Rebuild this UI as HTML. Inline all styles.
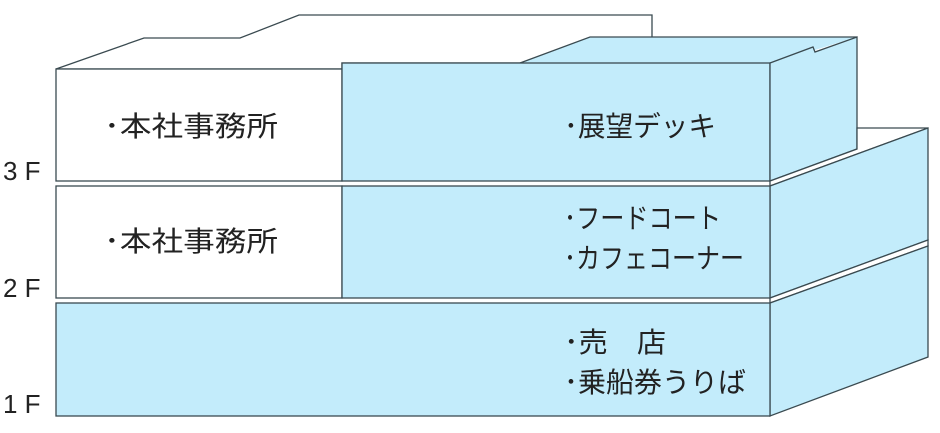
<!DOCTYPE html>
<html><head><meta charset="utf-8"><style>
html,body{margin:0;padding:0;background:#fff;}
text{font-family:"Liberation Sans","Noto Sans CJK JP",sans-serif;fill:#222;}
</style></head><body>
<svg width="940" height="428" viewBox="0 0 940 428" xmlns="http://www.w3.org/2000/svg">
<g stroke="#3a4a50" stroke-width="1.3" stroke-linejoin="miter">
<polygon points="56,69 144,38 240,38 299,15 652,15 652,63 342,63 342,69" fill="#fff"/>
<polygon points="342,63 520,63 590,37 857,37 815,50 813,47 770,63" fill="#c3ecfb" stroke="none"/>
<polyline points="520,63 590,37 857,37" fill="none"/>
<rect x="56" y="69" width="286" height="112" fill="#fff"/>
<rect x="342" y="63" width="428" height="118" fill="#c3ecfb"/>
<polygon points="770,63 813,47 815,52 857,37 857,149 770,181" fill="#c3ecfb"/>
<polygon points="770,181 857,149 857,128 928,128 770,186" fill="#fff"/>
<polygon points="770,186 928,128 928,240 770,298" fill="#c3ecfb"/>
<rect x="56" y="186" width="286" height="112" fill="#fff"/>
<rect x="342" y="186" width="428" height="112" fill="#c3ecfb"/>
<polygon points="770,298 928,240 928,246 770,303" fill="#fff"/>
<polygon points="770,303 928,246 928,357 770,416" fill="#c3ecfb"/>
<rect x="56" y="303" width="714" height="113" fill="#c3ecfb"/>
</g>
<g font-size="28">
<text x="104" y="136" textLength="174" lengthAdjust="spacingAndGlyphs">･本社事務所</text>
<text x="564" y="136" textLength="152" lengthAdjust="spacingAndGlyphs">･展望デッキ</text>
<text x="104" y="251" textLength="174" lengthAdjust="spacingAndGlyphs">･本社事務所</text>
<text x="564" y="228" textLength="157" lengthAdjust="spacingAndGlyphs">･フードコート</text>
<text x="564" y="268" textLength="180" lengthAdjust="spacingAndGlyphs">･カフェコーナー</text>
<text x="564" y="352" textLength="102" lengthAdjust="spacingAndGlyphs">･売　店</text>
<text x="564" y="392" textLength="182" lengthAdjust="spacingAndGlyphs">･乗船券うりば</text>
</g>
<g font-size="26">
<text x="3" y="180">3 F</text>
<text x="3" y="297">2 F</text>
<text x="3" y="413">1 F</text>
</g>
</svg>
</body></html>
